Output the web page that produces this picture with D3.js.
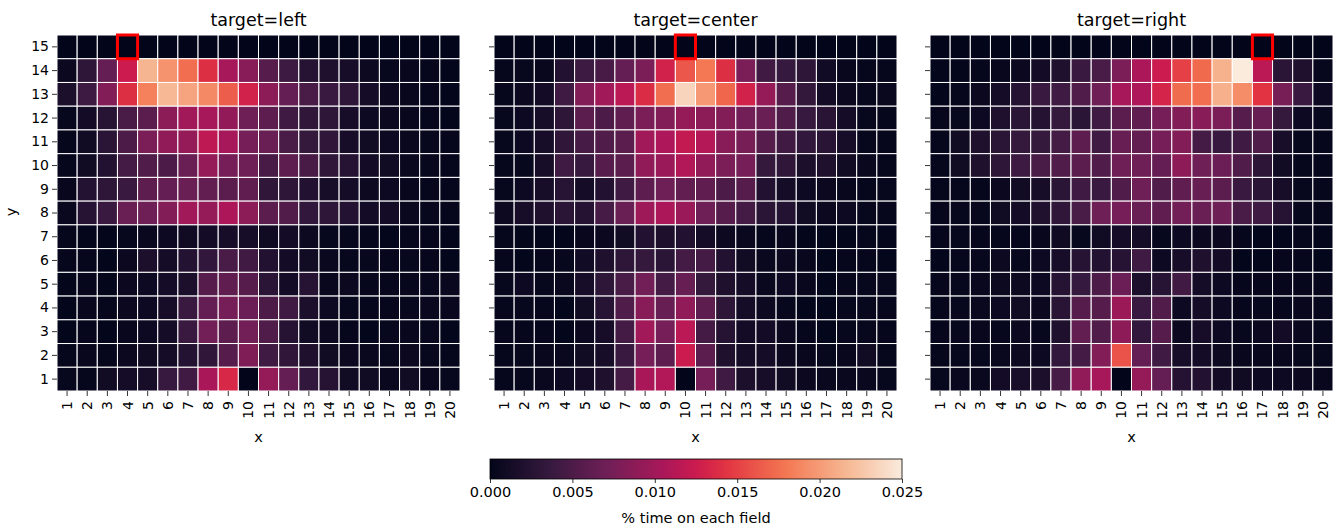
<!DOCTYPE html>
<html><head><meta charset="utf-8">
<script src="https://cdn.jsdelivr.net/npm/d3@7"></script>
<style>body{margin:0;background:#fff}svg{display:block}text{font-family:"DejaVu Sans",sans-serif;fill:#000}</style>
</head><body>
<svg id="chart" width="1343" height="530"></svg>
<script>
// ---- data (values in per-mille of time, rows listed from y=15 down to y=1) ----
const xCategories = d3.range(1, 21).map(String);
const yCategories = d3.range(15, 0, -1).map(String);
const panelTitles = ["target=left", "target=center", "target=right"];
const targetX = ["4", "10", "17"];
const targetY = ["15", "15", "15"];
const colorbarTicks = [0, 0.005, 0.010, 0.015, 0.020, 0.025];

const leftValues = [
[0,0,0,0,0,0,0,0,0,0,0,0,0,0,0,0,0,0,0,0],
[0.6,3,6.5,12.5,21.5,19.5,17.5,14,10.3,8.5,5.5,4,2.5,2,1.5,0.7,0.3,0.4,0.2,0.1],
[1.7,4,8.2,14,18.5,21.7,20.5,19,16.5,13,8.7,6.5,4.8,3.8,3,1.3,0.6,0.4,0.2,0.1],
[0.3,1.2,2.6,4.8,5.8,8.7,10,10.3,9.2,7,6,4.2,3.2,3,1.5,0.8,0.6,0.4,0.2,0.1],
[0.2,1.0,2.8,5,7.8,9,9.3,11.8,10.3,7.5,6.7,4.8,3.5,3.2,1.5,1.0,0.8,0.5,0.3,0.2],
[0.2,1.0,2.2,4.5,5.2,5,6.7,9.3,7.5,7,4.7,6,4.7,3.2,2.5,1.2,1.0,0.5,0.3,0.2],
[0.4,2.3,3,3.8,6,6.5,6.7,6.3,5.8,6.1,3.2,3,2.2,1.5,1.3,0.7,0.8,0.4,0.2,0.2],
[0.5,2.5,3.8,6.7,7,8.2,10,9.3,10.7,8.7,5.8,5.3,3.3,3,2.3,1.2,1.2,0.5,0.3,0.2],
[0.2,0.1,0.1,0.3,0.5,0.8,0.9,1.2,1.5,1.5,0.9,1.2,0.7,0.3,0.3,0.2,0.1,0.2,0.2,0.1],
[0.2,0.2,0.1,0.6,1.8,1.3,2.3,3.3,4.8,4.3,2.2,1.2,1.0,0.5,0.3,0.3,0.2,0.3,0.2,0.1],
[0.1,0.2,0.1,0.6,0.8,1.3,1.8,5.5,6.2,5.5,2.8,1.2,2.5,0.4,0.6,0.2,0.2,0.2,0.3,0.5],
[0.1,0.4,0.2,0.6,0.8,1.5,3.8,6.5,7.5,6.8,5,4.2,1.8,0.8,0.3,0.2,0.2,0.3,0.5,0.4],
[0.1,0.2,0.1,0.4,0.8,1.3,3.8,7.3,6,7.3,5.2,2.5,1.0,0.6,0.2,0.1,0.3,0.4,0.3,0.1],
[0.2,0.4,0.2,0.6,0.9,1.3,2.3,3.2,5.5,8,4.2,3.2,2.0,1.0,0.6,0.5,0.3,0.6,0.3,0.2],
[0.3,0.2,1.0,1.3,1.5,3.7,4.3,10.5,13.5,0,9.3,6.5,3.3,2.5,1.0,1.0,0.5,1.0,0.4,0.3]
];
const centerValues = [
[0,0,0,0,0,0,0,0,0,0,0,0,0,0,0,0,0,0,0,0],
[0.2,0.3,0.4,2.2,4,4.7,6.5,7.8,13,16.2,18,14,7.8,4.3,3.6,3,1.1,0.4,0.2,0.2],
[0.2,0.6,1.2,4.2,8.2,10,11.5,13.8,17.5,23.5,19.8,17,13,9.3,5.5,3.4,1.2,0.6,0.3,0.5],
[0.3,0.8,1.5,3,5.8,5,6.2,7.8,8.2,9.3,8.7,8.2,7.3,6.7,5.2,3.7,2.7,1.3,0.3,0.2],
[0.3,0.8,1.5,3.2,4.6,5.2,5.8,10,10.8,12,11.2,8.5,7.6,5.5,4.3,3.3,2.7,1.5,0.3,0.2],
[0.2,0.3,1.5,4.2,3.7,5.5,5.8,9,9.6,11,9,7.8,7.5,3.5,3.2,1.8,2.0,1.0,0.5,0.2],
[0.3,0.8,1.4,2.6,1.3,2.2,4.2,6,7,6.3,6.2,5,5.5,2.2,1.3,0.8,0.6,0.4,0.2,0.3],
[0.7,1.5,2,2.8,2.4,4.6,6.7,9.8,10.6,9.6,7,5.5,4.5,2.8,2.3,1.0,0.6,0.8,0.3,0.2],
[0.2,0.1,0.1,0.1,0.4,0.6,1.0,2.2,1.9,2.2,1.3,0.7,0.5,0.2,0.4,0.1,0.1,0.1,0.2,0.1],
[0.2,0.1,0.2,0.3,1.1,2,3,3.5,2.8,4.5,4.5,2.2,1,0.5,0.6,0.4,0.1,0.2,0.2,0.1],
[0.3,0.8,0.3,0.5,1.5,3,4.8,7.3,4.5,6.6,3.5,2.0,1.3,0.5,0.8,0.4,0.1,0.2,0.3,0.3],
[0.2,0.3,0.2,0.1,1.0,2.6,5.2,8.5,6.6,9,6,3,1.3,0.7,0.3,0.1,0.1,0.3,0.3,0.2],
[0.2,0.2,0.2,0.1,0.6,1.5,4.5,10,7.5,11.5,4.5,2.5,1.2,1.2,0.6,0.2,0.1,0.3,0.3,0.2],
[0.2,0.3,0.4,0.5,1.0,1.5,3.8,7.5,6,12.5,5.8,2,1.3,1.3,0.6,0.4,0.3,0.4,1.0,0.2],
[0.2,0.3,0.5,0.8,1.2,2.0,4.5,10.5,11,0,7.5,4.2,1.8,1.5,1.0,0.6,0.5,0.5,0.5,0.3]
];
const rightValues = [
[0,0,0,0,0,0,0,0,0,0,0,0,0,0,0,0,0,0,0,0],
[0.1,0.1,0.2,0.4,0.6,1.2,2,3.8,4.8,7.8,10.6,12.5,15,17.2,21.3,25,11.5,2.8,2,0.3],
[0.1,0.2,0.6,1.3,2.4,3.8,4.2,5.2,7,10.3,10.8,13.2,17.3,17.5,21.2,19.2,14.3,7.6,3.8,0.8],
[0.2,0.3,0.8,2,2.8,2.4,3.5,2.8,4.2,5.8,6.1,7.5,8.2,8.5,7.8,5.5,6.6,3.5,0.8,0.3],
[0.2,1.0,2,2.8,3.5,3.5,4.5,6,4.2,6.6,6.3,7.5,8.2,4.5,3.7,4.2,5.2,1.6,0.3,0.2],
[0.2,1.0,2,3.1,4,4.8,5.2,5.8,5.2,7,7,6.5,8.8,7,6.8,5.2,2.9,1.0,0.2,0.2],
[0.2,0.2,0.2,0.6,1.0,1.5,2.8,4.2,3.8,5.2,7,5.2,6.1,6.6,5.8,3.8,2.8,1.5,0.3,0.2],
[0.2,0.3,0.3,1.0,1.2,2.1,3.2,4.8,7,7.5,6.7,6.1,7.3,6.7,7,4.8,4.2,2.5,0.3,0.2],
[0.2,0.3,0.2,0.2,0.2,0.4,0.9,0.3,1.0,1.3,1.3,0.3,0.8,0.6,0.6,0.2,0.1,0.1,0.2,0.1],
[0.1,0.2,0.3,0.7,0.3,0.8,1.5,2.5,2.2,2.5,4.2,0.8,1.5,2,1.2,0.1,0.1,0.2,0.2,0.1],
[0.2,0.3,0.5,0.7,0.7,0.8,2.5,3.6,5,6.8,1.8,2.6,4.3,1.3,0.8,0.2,0.2,0.2,0.2,0.2],
[0.2,0.3,0.5,0.8,1.0,0.6,2.7,5.5,5.5,9.7,3.8,5.3,0.8,1.3,0.8,0.2,0.3,0.2,0.4,0.3],
[0.2,0.3,0.4,0.3,0.6,0.3,2,6.3,5.2,8.8,3.3,5.5,0.6,1.5,0.8,0.3,0.6,1.2,0.5,0.3],
[0.2,0.3,0.3,0.5,0.7,0.8,3.3,4.5,8.2,16,6.5,4.2,1.5,1.2,0.7,0.4,0.4,0.4,0.3,0.3],
[0.3,0.5,0.5,1.2,1.6,1.8,4.6,9,10.3,0,9.3,6.5,2.4,2.2,1.2,0.9,0.8,0.8,0.6,0.4]
];
const panelValues = [leftValues, centerValues, rightValues];

// ---- rocket colormap ----
const rocketStops = ["#03051a","#35193e","#701f57","#ad1759","#cb1b4f","#e13342","#f37651","#f6b48f","#faebdd"];
const rocketPos = [0, 1/7, 2/7, 3/7, 0.5, 4/7, 5/7, 6/7, 1];
const rocket = d3.scaleLinear().domain(rocketPos).range(rocketStops).interpolate(d3.interpolateRgb).clamp(true);
const vmax = 0.025;
const color = v => rocket(v / vmax);

const svg = d3.select("#chart");
const panelLeft = [57, 494, 930];
const panelW = 403, plotTop = 35, plotBottom = 391;

panelValues.forEach((vals, p) => {
  const x = d3.scaleBand().domain(xCategories).range([panelLeft[p], panelLeft[p] + panelW]);
  const y = d3.scaleBand().domain(yCategories).range([plotTop, plotBottom]);
  const cells = [];
  vals.forEach((row, ri) => row.forEach((v, ci) => cells.push({x: xCategories[ci], y: yCategories[ri], v: v / 1000})));
  const g = svg.append("g");
  g.selectAll("rect.cell").data(cells).join("rect").attr("class", "cell")
    .attr("x", d => x(d.x)).attr("y", d => y(d.y))
    .attr("width", x.bandwidth()).attr("height", y.bandwidth())
    .attr("fill", d => color(d.v)).attr("stroke", "#fff").attr("stroke-width", 1);
  // target marker
  g.append("rect")
    .attr("x", x(targetX[p])).attr("y", y(targetY[p]))
    .attr("width", x.bandwidth()).attr("height", y.bandwidth())
    .attr("fill", "none").attr("stroke", "#ff0000").attr("stroke-width", 3);
  // axes
  const ax = g.append("g").attr("transform", `translate(0,${plotBottom})`)
    .call(d3.axisBottom(x).tickSize(5).tickPadding(2));
  ax.select(".domain").remove();
  ax.selectAll("line").attr("stroke", "#000").attr("stroke-width", 0.8);
  ax.selectAll("text").attr("font-size", 14).attr("transform", "rotate(-90)")
    .attr("text-anchor", "end").attr("dy", null).attr("dominant-baseline", "central")
    .attr("x", -10).attr("y", 0);
  const ay = g.append("g").attr("transform", `translate(${panelLeft[p]},0)`)
    .call(d3.axisLeft(y).tickSize(5).tickPadding(3));
  ay.select(".domain").remove();
  ay.selectAll("line").attr("stroke", "#000").attr("stroke-width", 0.8);
  ay.selectAll("text").attr("font-size", 14);
  if (p > 0) ay.selectAll("text").remove();
  // title & x label
  g.append("text").attr("x", panelLeft[p] + panelW / 2).attr("y", 26)
    .attr("text-anchor", "middle").attr("font-size", 17.5).text(panelTitles[p]);
  g.append("text").attr("x", panelLeft[p] + panelW / 2).attr("y", 442)
    .attr("text-anchor", "middle").attr("font-size", 14.5).text("x");
});
svg.append("text").attr("transform", "translate(16,212) rotate(-90)")
  .attr("text-anchor", "middle").attr("font-size", 14.5).text("y");

// ---- colorbar ----
const cbX0 = 490, cbX1 = 902, cbY = 459, cbH = 20;
const defs = svg.append("defs");
const grad = defs.append("linearGradient").attr("id", "rocketGrad");
d3.range(0, 1.0001, 0.02).forEach(t => grad.append("stop").attr("offset", t).attr("stop-color", rocket(t)));
svg.append("rect").attr("x", cbX0).attr("y", cbY).attr("width", cbX1 - cbX0).attr("height", cbH)
  .attr("fill", "url(#rocketGrad)").attr("stroke", "#000").attr("stroke-width", 0.8);
const cbScale = d3.scaleLinear().domain([0, vmax]).range([cbX0, cbX1]);
const cbAxis = svg.append("g").attr("transform", `translate(0,${cbY + cbH})`)
  .call(d3.axisBottom(cbScale).tickValues(colorbarTicks).tickFormat(d3.format(".3f")).tickSize(4).tickPadding(4));
cbAxis.select(".domain").remove();
cbAxis.selectAll("line").attr("stroke", "#000").attr("stroke-width", 0.8);
cbAxis.selectAll("text").attr("font-size", 14.5);
svg.append("text").attr("x", (cbX0 + cbX1) / 2).attr("y", 523).attr("text-anchor", "middle")
  .attr("font-size", 14.5).text("% time on each field");
</script>
</body></html>
